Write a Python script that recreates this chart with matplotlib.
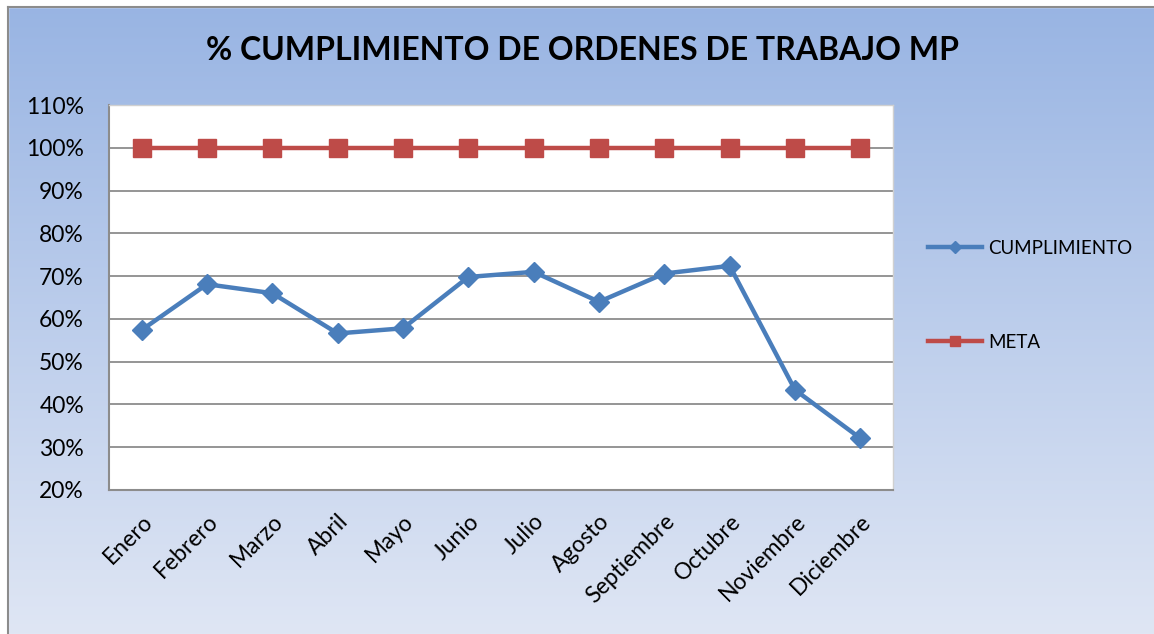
import matplotlib.pyplot as plt
import numpy as np
from matplotlib.patches import Rectangle
from matplotlib.ticker import PercentFormatter

meses = ['Enero', 'Febrero', 'Marzo', 'Abril', 'Mayo', 'Junio', 'Julio',
         'Agosto', 'Septiembre', 'Octubre', 'Noviembre', 'Diciembre']
cumplimiento = [57.4, 68.1, 66.0, 56.6, 57.8, 69.8, 71.0, 64.0, 70.6, 72.4, 43.4, 32.1]
meta = [100] * 12

plt.rcParams['font.family'] = ['Lato', 'DejaVu Sans']

fig = plt.figure(figsize=(11.54, 6.34), dpi=100)
fig.patch.set_facecolor('white')

# gradient background of the chart area
bg = fig.add_axes([0, 0, 1, 1], zorder=-10)
grad = np.linspace(0, 1, 256).reshape(-1, 1)
top = np.array([0x98, 0xB4, 0xE3]) / 255
bot = np.array([0xDF, 0xE6, 0xF4]) / 255
img = top + (bot - top) * grad[:, :, None]
bg.imshow(img, aspect='auto', extent=[0, 1, 0, 1], origin='upper')
bg.set_xlim(0, 1)
bg.set_ylim(0, 1)
bg.axis('off')
# white margin + thin border (top and left)
bx0, by1 = 7.5 / 1154, 1 - 6.5 / 634
bg.add_patch(Rectangle((0, 0), bx0, 1, color='white', zorder=2))
bg.add_patch(Rectangle((0, by1), 1, 1 - by1, color='white', zorder=2))
bg.plot([bx0, bx0], [0, by1], color='#8C8C8C', lw=1.5, zorder=3)
bg.plot([bx0, 1], [by1, by1], color='#8C8C8C', lw=1.5, zorder=3)

ax = fig.add_axes([109 / 1154, 1 - 490 / 634, 784 / 1154, 385 / 634])
ax.set_facecolor('white')
x = np.arange(len(meses))
ax.plot(x, cumplimiento, color='#4A7EBB', lw=3.2, marker='D', markersize=10,
        label='CUMPLIMIENTO', zorder=3)
ax.plot(x, meta, color='#BE4B48', lw=3.2, marker='s', markersize=12.5,
        label='META', zorder=3)

ax.set_xlim(-0.5, len(meses) - 0.5)
ax.set_ylim(20, 110)
ax.set_yticks(np.arange(20, 111, 10))
ax.yaxis.set_major_formatter(PercentFormatter(decimals=0))
ax.grid(axis='y', color='#8C8C8C', lw=1.3)
ax.set_axisbelow(True)
ax.set_xticks(x)
ax.set_xticklabels(meses, rotation=45, ha='right', rotation_mode='anchor')
ax.tick_params(axis='both', labelsize=16.5, length=0)
ax.tick_params(axis='y', pad=18)
ax.tick_params(axis='x', pad=15)
for s in ['left', 'bottom']:
    ax.spines[s].set_color('#8C8C8C')
    ax.spines[s].set_linewidth(1.5)
for s in ['top', 'right']:
    ax.spines[s].set_color('#D0D0D0')
    ax.spines[s].set_linewidth(1)

fig.text(0.505, 1 - 50 / 634, '% CUMPLIMIENTO DE ORDENES DE TRABAJO MP',
         ha='center', va='center', fontsize=23, fontweight='bold')

fig.legend(loc='upper left', bbox_to_anchor=(911 / 1154, 1 - 223 / 634),
           frameon=False, fontsize=13.5, labelspacing=4.1,
           handlelength=2.9, handletextpad=0.3, markerscale=0.6)

fig.savefig('out.png', dpi=100)
